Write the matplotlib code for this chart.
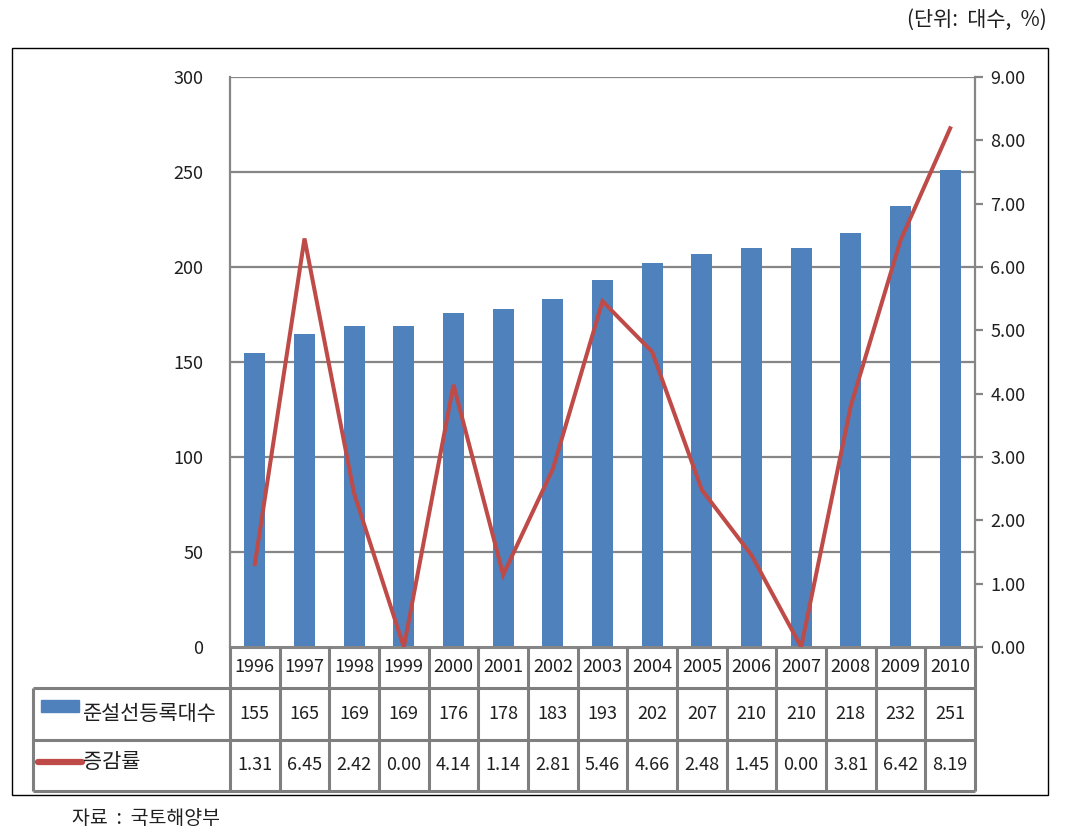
import matplotlib
matplotlib.use("Agg")
import matplotlib.pyplot as plt
from matplotlib.patches import Rectangle

plt.rcParams['font.family'] = ['Noto Sans CJK KR', 'DejaVu Sans']

years = ['1996', '1997', '1998', '1999', '2000', '2001', '2002', '2003',
         '2004', '2005', '2006', '2007', '2008', '2009', '2010']
counts = [155, 165, 169, 169, 176, 178, 183, 193, 202, 207, 210, 210, 218, 232, 251]
rates = [1.31, 6.45, 2.42, 0.00, 4.14, 1.14, 2.81, 5.46, 4.66, 2.48, 1.45, 0.00, 3.81, 6.42, 8.19]
series_names = ['준설선등록대수', '증감률']
left_ticks = [0, 50, 100, 150, 200, 250, 300]
right_ticks = [0, 1, 2, 3, 4, 5, 6, 7, 8, 9]

BAR = '#4F81BD'
LINE = '#BE4B48'
GRID = '#868686'
TXT = '#1F1F1F'
NUM = 13

W, H = 1083, 840
fig = plt.figure(figsize=(W / 100, H / 100), dpi=100)

def fx(px):
    return px / W

def fy(py):
    return 1 - py / H

# outer frame
fig.patches.append(Rectangle((fx(12), fy(795)), fx(1048) - fx(12), fy(48) - fy(795),
                             transform=fig.transFigure, fill=False, ec='black', lw=1.0))

L, R, T, B = 230, 975, 77, 647
ax = fig.add_axes([fx(L), fy(B), fx(R) - fx(L), fy(T) - fy(B)])
n = len(years)
x = list(range(n))
ax.bar(x, counts, width=0.42, color=BAR, zorder=3)
ax.set_xlim(-0.5, n - 0.5)
ax.set_ylim(0, 300)
ax.set_yticks(left_ticks)
ax.set_yticklabels([str(v) for v in left_ticks], fontsize=NUM, color=TXT)
ax.tick_params(axis='y', length=0, pad=19)
ax.set_xticks([])
for v in left_ticks[1:]:
    ax.axhline(v, color=GRID, lw=1.6, zorder=1)
for s in ['top', 'right']:
    ax.spines[s].set_visible(False)
ax.spines['left'].set_color(GRID)
ax.spines['left'].set_linewidth(1.6)
ax.spines['bottom'].set_color(GRID)
ax.spines['bottom'].set_linewidth(2.2)
ax.spines['bottom'].set_zorder(5)

ax2 = ax.twinx()
ax2.plot(x, rates, color=LINE, lw=2.9, zorder=4, solid_joinstyle='miter')
ax2.set_ylim(0, 9)
ax2.set_yticks(right_ticks)
ax2.set_yticklabels([f'{v:.2f}' for v in right_ticks], fontsize=NUM, color=TXT)
ax2.tick_params(axis='y', length=6, width=1.6, color=GRID, pad=5)
for s in ['top', 'left', 'bottom']:
    ax2.spines[s].set_visible(False)
ax2.spines['right'].set_color(GRID)
ax2.spines['right'].set_linewidth(1.6)

# data table
TL, TB = 33, 791
colw = (R - L) / n
x0 = -0.5 - (L - TL) / colw
axt = fig.add_axes([fx(TL), fy(TB), fx(R) - fx(TL), fy(B) - fy(TB)])
axt.set_xlim(x0, n - 0.5)
axt.set_ylim(TB - B, 0)
axt.axis('off')
rows = [0, 41, 93, 144]
lc = '#7F7F7F'
lw = 2.2
for yb in rows[1:]:
    axt.plot([x0, n - 0.5], [yb, yb], color=lc, lw=lw, solid_capstyle='butt', clip_on=False)
for i in range(n + 1):
    axt.plot([i - 0.5, i - 0.5], [0, rows[-1]], color=lc, lw=lw, solid_capstyle='butt', clip_on=False)
axt.plot([x0, x0], [rows[1], rows[-1]], color=lc, lw=lw, solid_capstyle='butt', clip_on=False)

for i in range(n):
    axt.text(i, (rows[0] + rows[1]) / 2, years[i], ha='center', va='center', fontsize=NUM, color=TXT)
    axt.text(i, (rows[1] + rows[2]) / 2, str(counts[i]), ha='center', va='center', fontsize=NUM, color=TXT)
    axt.text(i, (rows[2] + rows[3]) / 2, f'{rates[i]:.2f}', ha='center', va='center', fontsize=NUM, color=TXT)

# legend keys in header column
def px2x(px):
    return x0 + (px - TL) / colw

axt.add_patch(Rectangle((px2x(41), 53), px2x(79) - px2x(41), 12, color=BAR, clip_on=False))
axt.plot([px2x(38), px2x(82)], [115, 115], color=LINE, lw=4.5, solid_capstyle='round', clip_on=False)
axt.text(px2x(83), (rows[1] + rows[2]) / 2, series_names[0], ha='left', va='center', fontsize=15, color=TXT)
axt.text(px2x(83), (rows[2] + rows[3]) / 2 - 3, series_names[1], ha='left', va='center', fontsize=15, color=TXT)

fig.text(fx(1047), fy(20), '(단위:  대수,  %)', ha='right', va='center', fontsize=15, color=TXT)
fig.text(fx(72), fy(818), '자료  :  국토해양부', ha='left', va='center', fontsize=14, color=TXT)

fig.savefig('out.png', dpi=100)
